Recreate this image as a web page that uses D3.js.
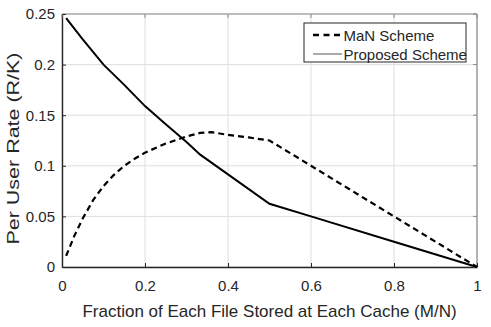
<!DOCTYPE html>
<html>
<head>
<meta charset="utf-8">
<script src="https://cdn.jsdelivr.net/npm/d3@7"></script>
<style>
	body { margin: 0; background: #fff; }
	svg { display: block; font-family: 'Liberation Sans', Arial, sans-serif; }
</style>
</head>
<body>
<div id="chart"></div>
<script>
// values
const manX = [0.01, 0.03, 0.05, 0.075, 0.1, 0.125, 0.15, 0.175, 0.2, 0.25, 0.3, 0.333, 0.36, 0.4, 0.45, 0.5, 0.6, 0.8, 1];
const manY = [0.011, 0.031, 0.048, 0.066, 0.080, 0.091, 0.100, 0.107, 0.113, 0.122, 0.129, 0.1325, 0.1333, 0.1305, 0.128, 0.125, 0.1, 0.05, 0];
const propX = [0.01, 0.05, 0.1, 0.15, 0.2, 0.25, 0.3, 0.333, 0.5, 0.6, 0.8, 1];
const propY = [0.246, 0.225, 0.2, 0.18, 0.159, 0.141, 0.1235, 0.111, 0.0625, 0.05, 0.025, 0];
const xTicks = [0, 0.2, 0.4, 0.6, 0.8, 1];
const yTicks = [0, 0.05, 0.1, 0.15, 0.2, 0.25];
const seriesNames = ['MaN Scheme', 'Proposed Scheme'];

const width = 491, height = 327;
const margin = { left: 62, right: 14, top: 14, bottom: 60 };

const svg = d3.select('#chart').append('svg').attr('width', width).attr('height', height);

const x = d3.scaleLinear().domain([0, 1]).range([margin.left, width - margin.right]);
const y = d3.scaleLinear().domain([0, 0.25]).range([height - margin.bottom, margin.top]);

// grid
svg.append('g')
	.selectAll('line')
	.data(xTicks)
	.enter()
	.append('line')
	.attr('x1', (d) => x(d)).attr('x2', (d) => x(d))
	.attr('y1', y(0)).attr('y2', y(0.25))
	.attr('stroke', '#dedede');
svg.append('g')
	.selectAll('line')
	.data(yTicks)
	.enter()
	.append('line')
	.attr('y1', (d) => y(d)).attr('y2', (d) => y(d))
	.attr('x1', x(0)).attr('x2', x(1))
	.attr('stroke', '#dedede');

// box: top/right lighter
svg.append('line').attr('x1', x(0)).attr('x2', x(1)).attr('y1', y(0.25)).attr('y2', y(0.25)).attr('stroke', '#8a8a8a').attr('stroke-width', 1.2);
svg.append('line').attr('x1', x(1)).attr('x2', x(1)).attr('y1', y(0)).attr('y2', y(0.25)).attr('stroke', '#8a8a8a').attr('stroke-width', 1.2);

const xAxis = d3.axisBottom(x).tickValues(xTicks).tickFormat(d3.format('~g')).tickSizeInner(-4).tickSizeOuter(0).tickPadding(10);
const yAxis = d3.axisLeft(y).tickValues(yTicks).tickFormat(d3.format('~g')).tickSizeInner(-4).tickSizeOuter(0).tickPadding(7);

const gx = svg.append('g').attr('transform', `translate(0, ${y(0)})`).call(xAxis);
const gy = svg.append('g').attr('transform', `translate(${x(0)}, 0)`).call(yAxis);
[gx, gy].forEach((g) => {
	g.select('.domain').attr('stroke', '#262626').attr('stroke-width', 1.4);
	g.selectAll('.tick line').attr('stroke', '#262626');
	g.selectAll('.tick text').attr('fill', '#262626').style('font-size', '15px');
});
gx.selectAll('.tick text').attr('dy', '0.9em');

// top/right ticks
svg.append('g').selectAll('line').data(xTicks).enter().append('line')
	.attr('x1', (d) => x(d)).attr('x2', (d) => x(d))
	.attr('y1', y(0.25)).attr('y2', y(0.25) + 4).attr('stroke', '#8a8a8a');
svg.append('g').selectAll('line').data(yTicks).enter().append('line')
	.attr('y1', (d) => y(d)).attr('y2', (d) => y(d))
	.attr('x1', x(1)).attr('x2', x(1) - 4).attr('stroke', '#8a8a8a');

// lines
const line = d3.line().x((d) => x(d[0])).y((d) => y(d[1]));
svg.append('path')
	.datum(manX.map((v, i) => [v, manY[i]]))
	.attr('d', line)
	.attr('fill', 'none').attr('stroke', '#000').attr('stroke-width', 2.2)
	.attr('stroke-dasharray', '6,4');
svg.append('path')
	.datum(propX.map((v, i) => [v, propY[i]]))
	.attr('d', line)
	.attr('fill', 'none').attr('stroke', '#000').attr('stroke-width', 2);

// axis labels
svg.append('text')
	.attr('x', (x(0) + x(1)) / 2).attr('y', 317)
	.attr('text-anchor', 'middle')
	.style('font-size', '17px').attr('fill', '#262626')
	.text('Fraction of Each File Stored at Each Cache (M/N)');
svg.append('text')
	.attr('transform', 'translate(18.5, 148.5) rotate(-90)')
	.attr('text-anchor', 'middle')
	.attr('textLength', 192).attr('lengthAdjust', 'spacingAndGlyphs')
	.style('font-size', '17px').attr('fill', '#262626')
	.text('Per User Rate (R/K)');

// legend
const legend = svg.append('g').attr('transform', 'translate(304, 23)');
legend.append('rect').attr('width', 162).attr('height', 39).attr('fill', '#fff').attr('stroke', '#262626').attr('stroke-width', 1);
const items = legend.selectAll('g.item').data(seriesNames).enter().append('g')
	.attr('transform', (d, i) => `translate(0, ${12 + i * 19})`);
items.append('line')
	.attr('x1', 9).attr('x2', 38)
	.attr('stroke', (d, i) => (i === 0 ? '#000' : '#555'))
	.attr('stroke-width', (d, i) => (i === 0 ? 2.5 : 1))
	.attr('stroke-dasharray', (d, i) => (i === 0 ? '6,4.5' : null));
items.append('text')
	.attr('x', 39.5).attr('y', 5.5)
	.style('font-size', '15px').attr('fill', '#262626')
	.text((d) => d);
</script>
</body>
</html>
